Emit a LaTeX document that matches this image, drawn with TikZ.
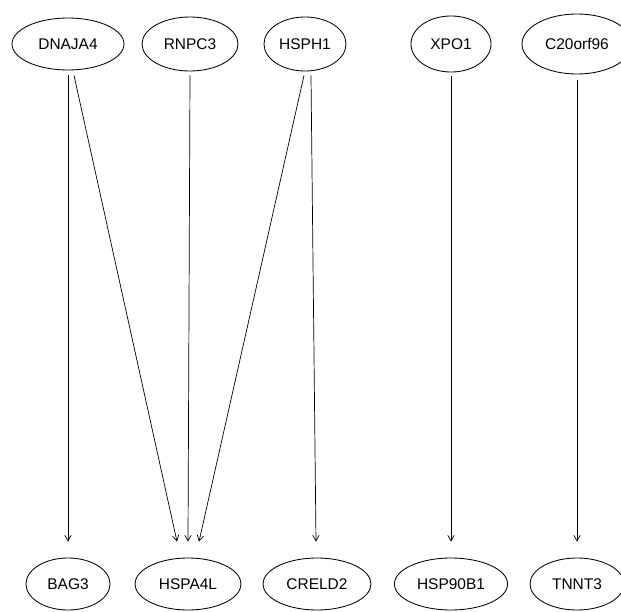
\documentclass[tikz,border=0pt]{standalone}
\usepackage{fontspec}
\setmainfont{Liberation Sans}
\usepackage{tikz}
\usetikzlibrary{arrows.meta,calc,shapes.geometric}

\begin{document}
\begin{tikzpicture}[x=0.025cm,y=-0.025cm,
  every node/.style={font=\fontsize{11}{13}\selectfont},
  gene/.style={draw,ellipse,inner sep=0pt,line width=0.6pt,minimum height=1.35cm},
  tgt/.style={gene,minimum height=1.3cm},
  e/.style={-{Straight Barb[length=1.4mm,width=1.6mm]},line width=0.5pt}]
 \useasboundingbox (0,0) rectangle (621,612);
 % regulators
 \node[gene,minimum width=2.8cm,minimum height=1.3cm] (dnaja4) at (68,44) {DNAJA4};
 \node[gene,minimum width=2.4cm] (rnpc3) at (190,44) {RNPC3};
 \node[gene,minimum width=2.05cm] (hsph1) at (305,44) {HSPH1};
 \node[gene,minimum width=2.0cm,minimum height=1.4cm] (xpo1) at (451,44) {XPO1};
 \node[gene,minimum width=2.75cm,minimum height=1.5cm] (c20orf96) at (577,44) {C20orf96};
 % targets
 \node[tgt,minimum width=2.1cm] (bag3) at (68,584) {BAG3};
 \node[tgt,minimum width=2.65cm] (hspa4l) at (188,584) {HSPA4L};
 \node[tgt,minimum width=2.7cm] (creld2) at (317,584) {CRELD2};
 \node[tgt,minimum width=2.83cm] (hsp90b1) at (451,584) {HSP90B1};
 \node[tgt,minimum width=2.35cm] (tnnt3) at (577,584) {TNNT3};
 % edges
 \draw[e] ($(dnaja4.south)+(0,5)$) -- ($(bag3.north)+(0,-16)$);
 \draw[e] ($(dnaja4.south)+(6,5)$) -- ($(hspa4l.north)+(-11,-16)$);
 \draw[e] ($(rnpc3.south)+(0,4)$) -- ($(hspa4l.north)+(0,-16)$);
 \draw[e] ($(hsph1.south)+(-1,4)$) -- ($(hspa4l.north)+(11,-16)$);
 \draw[e] ($(hsph1.south)+(6,4)$) -- ($(creld2.north)+(-1,-16)$);
 \draw[e] ($(xpo1.south)+(0,4)$) -- ($(hsp90b1.north)+(0,-16)$);
 \draw[e] ($(c20orf96.south)+(0,6)$) -- ($(tnnt3.north)+(0,-16)$);
\end{tikzpicture}
\end{document}
